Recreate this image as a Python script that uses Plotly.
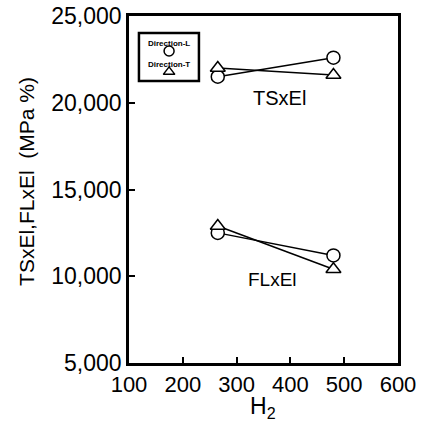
import plotly.graph_objects as go

# Data
h2 = [265, 480]
ts_L = [21500, 22600]
ts_T = [22000, 21600]
fl_L = [12500, 11200]
fl_T = [12900, 10400]

legend_labels = ["Direction-L", "Direction-T"]
x_ticks = [100, 200, 300, 400, 500, 600]
y_ticks = [5000, 10000, 15000, 20000, 25000]

FONT = "Liberation Sans, Arial, sans-serif"

fig = go.Figure()

def add_series(y, symbol):
    fig.add_trace(go.Scatter(
        x=h2, y=y, mode="lines+markers",
        line=dict(color="black", width=1.5),
        marker=dict(symbol=symbol, size=13, color="white",
                    line=dict(color="black", width=1.5)),
        showlegend=False, cliponaxis=False,
    ))

add_series(ts_L, "circle")
add_series(ts_T, "triangle-up")
add_series(fl_L, "circle")
add_series(fl_T, "triangle-up")

# legend key markers on an overlay 0..1 axis (layout only)
fig.add_trace(go.Scatter(
    x=[0.149, 0.149], y=[0.899, 0.839], mode="markers",
    marker=dict(symbol=["circle", "triangle-up"], size=10,
                color="white", line=dict(color="black", width=1.5)),
    xaxis="x2", yaxis="y2", showlegend=False, hoverinfo="skip",
))

fig.update_layout(
    width=424, height=421,
    margin=dict(l=129, r=26, t=16, b=58, autoexpand=False),
    paper_bgcolor="white", plot_bgcolor="white",
    font=dict(family=FONT, color="black"),
    xaxis=dict(
        range=[100, 600], tickvals=x_ticks, automargin=False,
        ticks="inside", ticklen=6, tickwidth=2, tickcolor="black",
        showline=True, linewidth=2.5, linecolor="black", mirror=True,
        showgrid=False, zeroline=False,
        tickfont=dict(size=22, family=FONT, color="black"),
    ),
    yaxis=dict(
        range=[5000, 25000], tickvals=y_ticks, tickformat=",", automargin=False,
        ticks="inside", ticklen=6, tickwidth=2, tickcolor="black",
        showline=True, linewidth=2.5, linecolor="black", mirror=True,
        showgrid=False, zeroline=False,
        tickfont=dict(size=23, family=FONT, color="black"),
    ),
    xaxis2=dict(range=[0, 1], overlaying="x", visible=False, fixedrange=True),
    yaxis2=dict(range=[0, 1], overlaying="y", visible=False, fixedrange=True),
    shapes=[dict(type="rect", xref="paper", yref="paper",
                 x0=0.037, x1=0.26, y0=0.813, y1=0.951,
                 line=dict(color="black", width=2.5), fillcolor="white",
                 layer="below")],
    annotations=[
        dict(text="<b>" + legend_labels[0] + "</b>", xref="paper", yref="paper", x=0.149, y=0.922,
             showarrow=False, font=dict(size=8, family=FONT, color="black"),
             xanchor="center", yanchor="middle"),
        dict(text="<b>" + legend_labels[1] + "</b>", xref="paper", yref="paper", x=0.149, y=0.859,
             showarrow=False, font=dict(size=8, family=FONT, color="black"),
             xanchor="center", yanchor="middle"),
        dict(text="TSxEl", x=380, y=20270, xref="x", yref="y", showarrow=False,
             font=dict(size=20, family=FONT, color="black")),
        dict(text="FLxEl", x=367, y=9790, xref="x", yref="y", showarrow=False,
             font=dict(size=19, family=FONT, color="black")),
        dict(text="TSxEl,FLxEl  (MPa %)", xref="paper", yref="paper",
             x=-0.379, y=0.522, textangle=-90, showarrow=False,
             xanchor="center", yanchor="middle",
             font=dict(size=21, family=FONT, color="black")),
        dict(text="H<sub>2</sub>", xref="paper", yref="paper",
             x=0.498, y=-0.128, showarrow=False,
             xanchor="center", yanchor="middle",
             font=dict(size=23, family=FONT, color="black")),
    ],
)

fig.write_html("out.html", config={"displayModeBar": False},
               post_script="document.body.style.margin='0';")
